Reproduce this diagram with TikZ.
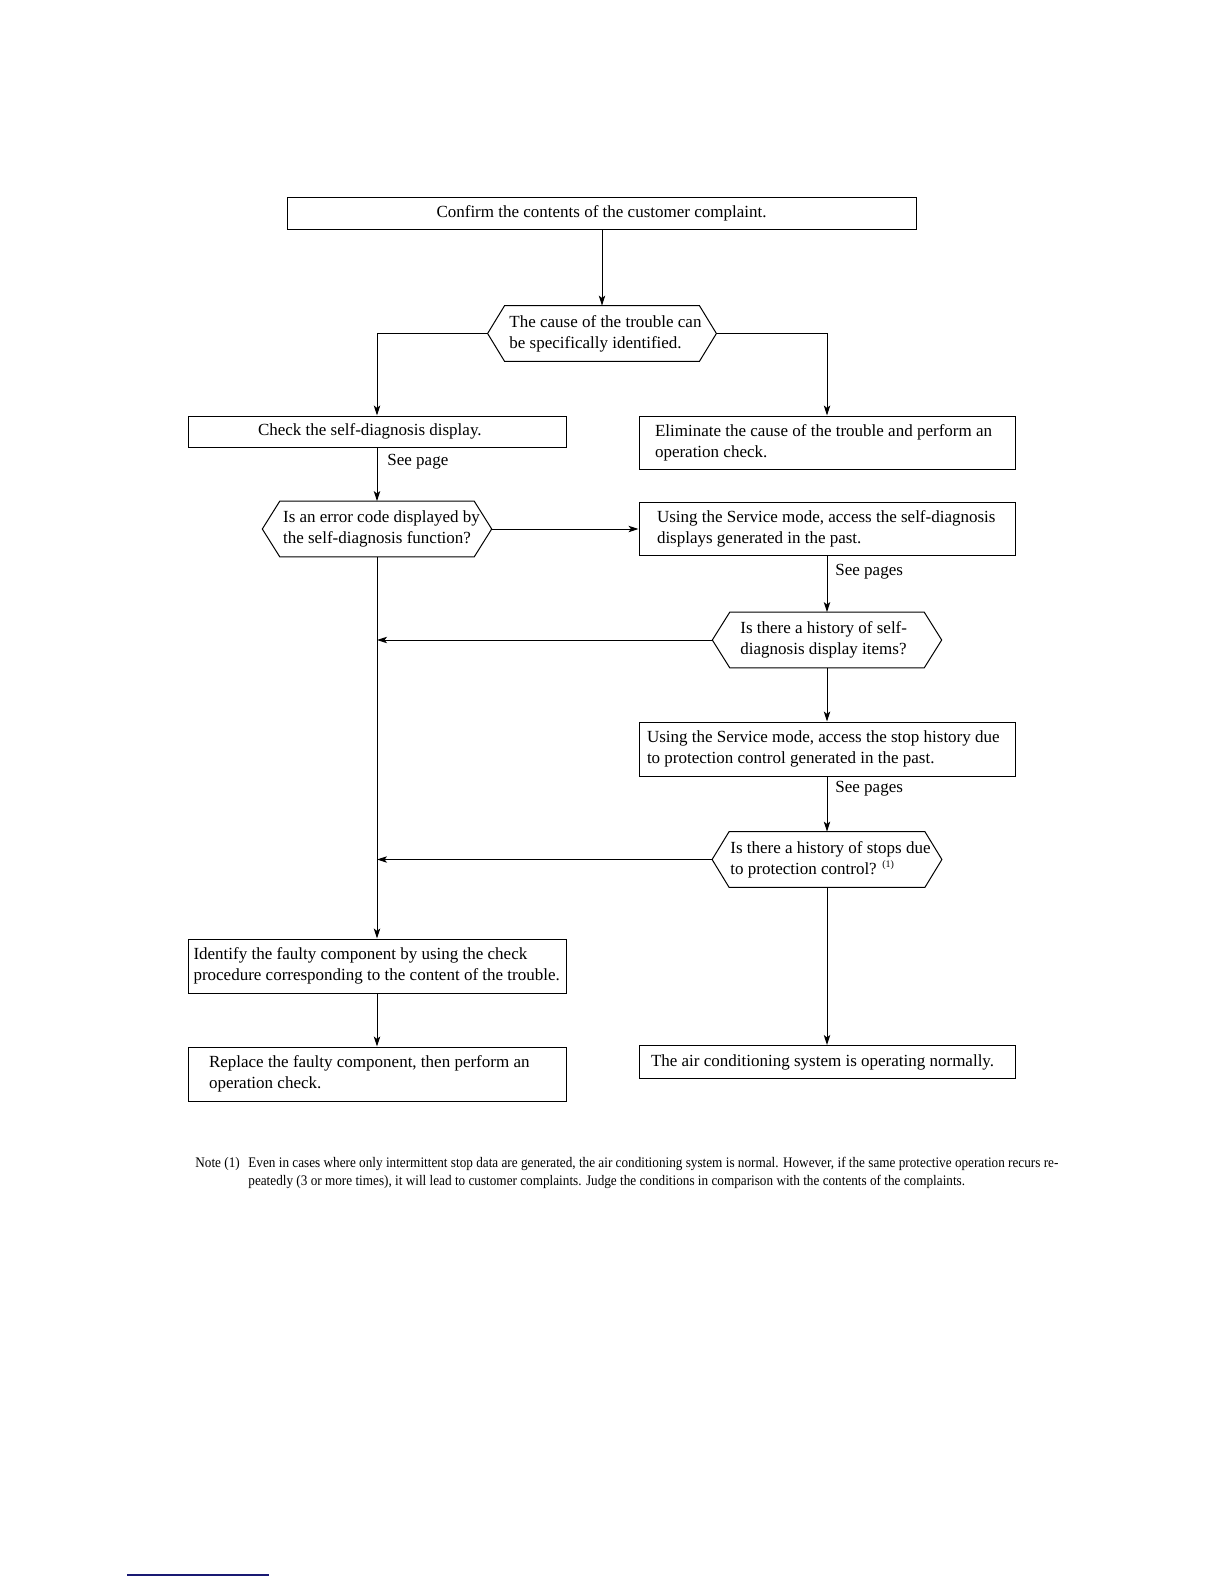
\documentclass[tikz,border=0pt]{standalone}
\usepackage{fontspec}
\setmainfont{Liberation Serif}
\newfontfamily\notefont[FakeStretch=0.905]{Liberation Serif}
\usetikzlibrary{arrows.meta,calc}
\definecolor{linknavy}{RGB}{25,25,115}
\newcommand\hexoutline[2]{%
  \draw[lineA] (#1.west) -- ($(#1.north west)+(#2,0)$) -- ($(#1.north east)-(#2,0)$) -- (#1.east)
    -- ($(#1.south east)-(#2,0)$) -- ($(#1.south west)+(#2,0)$) -- cycle;}
\newcommand\leftlines[2]{\makebox[#1][l]{\begin{tabular}{@{}l@{}}#2\end{tabular}}}
\begin{document}
\begin{tikzpicture}[x=0.5pt,y=-0.5pt,
  every node/.style={font=\fontsize{8.5pt}{10.6pt}\selectfont},
  lineA/.style={line width=0.5pt},
  arr/.style={lineA,-{Stealth[length=5pt,width=3.2pt,inset=1.2pt]}},
  box/.style={draw,line width=0.5pt,inner ysep=0pt},
  hexa/.style={inner sep=0pt,minimum height=27.5pt},
  hextext/.style={inner sep=0pt,anchor=west},
  lbl/.style={inner sep=0pt,anchor=west},
  notefnt/.style={inner sep=0pt,anchor=base west,font=\notefont\fontsize{7.3pt}{9pt}\selectfont}]
\useasboundingbox (0,0) rectangle (1224,1584);

% boxes and decisions
\node[box,minimum width=314.5pt,minimum height=16pt] (b1) at (601.5,213) {Confirm the contents of the customer complaint.};
\node[hexa,minimum width=114pt] (h1) at (602,333.5) {};
\hexoutline{h1}{17}
\node[hextext] (h1t) at (509,333.5) {\leftlines{93pt}{The cause of the trouble can\\be specifically identified.}};

\node[box,minimum width=189pt,minimum height=15.5pt,inner xsep=35pt] (check) at (377,431.5) {\leftlines{119pt}{Check the self-diagnosis display.}};
\node[box,minimum width=188pt,minimum height=26.5pt,inner xsep=8pt] (elim) at (827,442.5) {\leftlines{172pt}{Eliminate the cause of the trouble and perform an\\operation check.}};

\node[hexa,minimum width=114.3pt] (h2) at (377,529) {};
\hexoutline{h2}{17.5}
\node[hextext] (h2t) at (282.7,529) {\leftlines{95pt}{Is an error code displayed by\\the self-diagnosis function?}};

\node[box,minimum width=188pt,minimum height=26.25pt,inner xsep=9pt] (use1) at (827,529) {\leftlines{170pt}{Using the Service mode, access the self-diagnosis\\displays generated in the past.}};

\node[hexa,minimum width=114.3pt] (h3) at (827,640) {};
\hexoutline{h3}{17.5}
\node[hextext] (h3t) at (740,640) {\leftlines{85pt}{Is there a history of self-\\diagnosis display items?}};

\node[box,minimum width=188pt,minimum height=27pt,inner xsep=4pt] (use2) at (827,749) {\leftlines{180pt}{Using the Service mode, access the stop history due\\to protection control generated in the past.}};

\node[hexa,minimum width=114.5pt] (h4) at (827,859.5) {};
\hexoutline{h4}{17}
\node[hextext] (h4t) at (730,859.5) {\leftlines{95pt}{Is there a history of stops due\\to protection control? \raisebox{3.2pt}{\fontsize{5pt}{5pt}\selectfont(1)}}};

\node[box,minimum width=189pt,minimum height=27pt,inner xsep=2.75pt] (ident) at (377,966) {\leftlines{183.5pt}{Identify the faulty component by using the check\\procedure corresponding to the content of the trouble.}};
\node[box,minimum width=189pt,minimum height=27pt,inner xsep=10.5pt] (repl) at (377,1074) {\leftlines{168pt}{Replace the faulty component, then perform an\\operation check.}};
\node[box,minimum width=188pt,minimum height=16.5pt,inner xsep=6pt] (norm) at (827,1062) {\leftlines{176pt}{The air conditioning system is operating normally.}};

% labels
\node[lbl] (sp1) at (387,462) {See page};
\node[lbl] (sp2) at (835,572) {See pages};
\node[lbl] (sp3) at (835,789) {See pages};

% connectors
\draw[arr] (b1.south -| h1.north) -- (h1.north);
\draw[arr] (h1.west) -| (check.north);
\draw[arr] (h1.east) -| (elim.north);
\draw[arr] (check.south) -- (h2.north);
\draw[arr] (h2.east) -- (use1.west);
\draw[arr] (use1.south) -- (h3.north);
\draw[arr] (h3.west) -- (h3.west -| h2.south);
\draw[arr] (h3.south) -- (use2.north);
\draw[arr] (use2.south) -- (h4.north);
\draw[arr] (h4.west) -- (h4.west -| h2.south);
\draw[arr] (h2.south) -- (ident.north);
\draw[arr] (ident.south) -- (repl.north);
\draw[arr] (h4.south) -- (norm.north);

% note
\node[notefnt] (noteA) at (195,1167) {Note (1)};
\node[notefnt] (noteB) at (248,1167) {Even in cases where only intermittent stop data are generated, the air conditioning system is normal. However, if the same protective operation recurs re-};
\node[notefnt] (noteC) at (248,1185) {peatedly (3 or more times), it will lead to customer complaints. Judge the conditions in comparison with the contents of the complaints.};

\draw[linknavy,line width=0.8pt] (127,1575) -- (269,1575);
\end{tikzpicture}
\end{document}
